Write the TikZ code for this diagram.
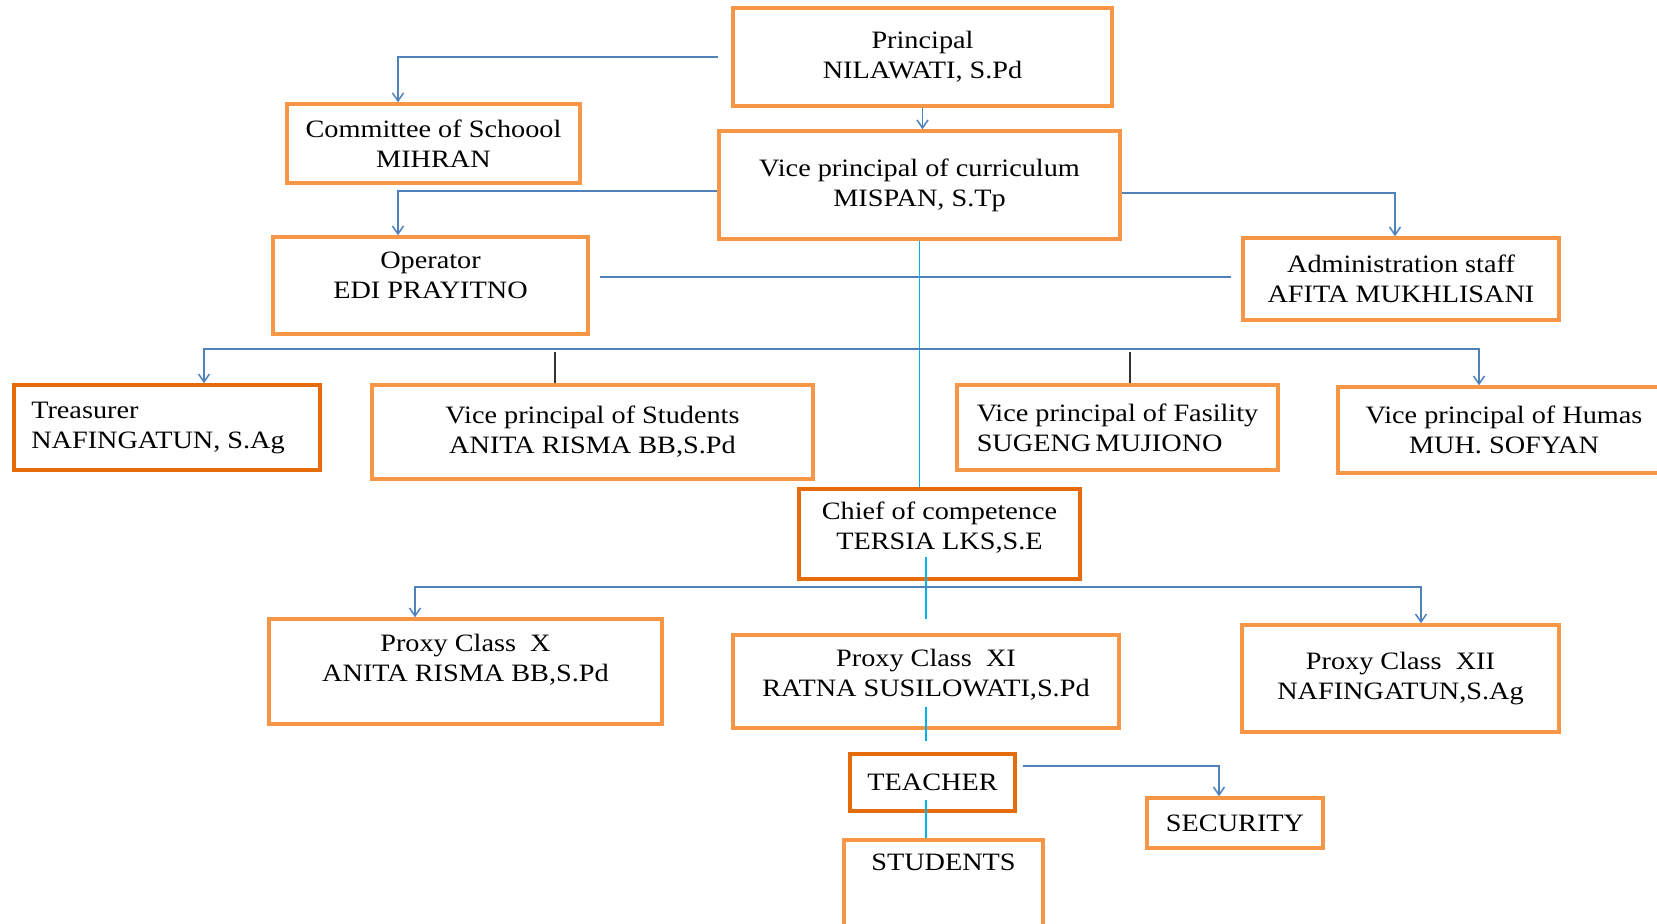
\documentclass[tikz,border=0pt]{standalone}
\usepackage{fontspec}
\setmainfont{Liberation Serif}[FakeStretch=1.13]
\usetikzlibrary{arrows.meta}
\definecolor{boxorange}{HTML}{F79646}
\definecolor{deeporange}{HTML}{E46C0A}
\definecolor{linkblue}{HTML}{4F81BD}
\definecolor{trunkcyan}{HTML}{00B0F0}

\begin{document}
\begin{tikzpicture}[x=0.5pt, y=-0.5pt,
  box/.style={draw=boxorange, line width=1.75pt, fill=white, align=center,
    inner sep=0pt, font=\fontsize{12.5}{15}\selectfont},
  darkbox/.style={box, draw=deeporange},
  link/.style={linkblue, line width=0.75pt},
  arrowlink/.style={link, -{Straight Barb[length=4pt,width=5.5pt]}},
  trunk/.style={trunkcyan, line width=0.75pt},
  tick/.style={black!80, line width=0.75pt}]
  \useasboundingbox (0,0) rectangle (1657,923);

  % Leadership
  \node[box, minimum width=189.5pt, minimum height=49pt] (principal) at (922.5,57)
    {Principal\\NILAWATI, S.Pd};
  \node[box, minimum width=146.5pt, minimum height=39.5pt] (committee) at (433.5,143.5)
    {Committee of Schoool\\MIHRAN};
  \node[box, minimum width=200.5pt, minimum height=54pt] (vpcurr) at (919.5,185)
    {Vice principal of curriculum\\MISPAN, S.Tp};
  \node[box, minimum width=157.5pt, minimum height=48.5pt, text depth=10pt] (operator) at (430.5,285.5)
    {Operator\\EDI PRAYITNO};
  \node[box, minimum width=158pt, minimum height=41pt] (admin) at (1401,279)
    {Administration staff\\AFITA MUKHLISANI};

  % Vice principals
  \node[darkbox, align=left, minimum width=153pt, minimum height=42.5pt] (treasurer) at (167,427.5)
    {Treasurer\\NAFINGATUN, S.Ag\rule{9pt}{0pt}};
  \node[box, minimum width=220.5pt, minimum height=47pt] (vpstud) at (592.5,432)
    {Vice principal of Students\\ANITA RISMA BB,S.Pd};
  \node[box, align=left, minimum width=160.5pt, minimum height=42.5pt] (vpfas) at (1117.5,427.5)
    {Vice principal of Fasility\\SUGENG\,MUJIONO};
  \node[box, minimum width=166pt, minimum height=43pt] (vphumas) at (1504,430)
    {Vice principal of Humas\\MUH. SOFYAN};
  \node[darkbox, minimum width=140.5pt, minimum height=45pt, text depth=8pt] (chief) at (939.5,534)
    {Chief of competence\\TERSIA LKS,S.E};

  % Classes
  \node[box, minimum width=196.5pt, minimum height=52.5pt, text depth=14pt] (proxyX) at (465.5,671.5)
    {Proxy Class~ X\\ANITA RISMA BB,S.Pd};
  \node[box, minimum width=193pt, minimum height=46.5pt, text depth=9pt] (proxyXI) at (926,681.5)
    {Proxy Class~ XI\\RATNA SUSILOWATI,S.Pd};
  \node[box, minimum width=158.5pt, minimum height=53.5pt] (proxyXII) at (1400.5,678.5)
    {Proxy Class~ XII\\NAFINGATUN,S.Ag};
  \node[darkbox, minimum width=82.5pt, minimum height=28.5pt] (teacher) at (932.5,782.5) {TEACHER};
  \node[box, minimum width=88pt, minimum height=25pt] (security) at (1235,823) {SECURITY};
  \node[box, anchor=north, minimum width=99.5pt, inner ysep=7pt, text depth=50pt] (students) at (943.5,838)
    {STUDENTS};

  % Connectors, top
  \draw[arrowlink] ([xshift=-6.5pt]principal.west) -| ([xshift=-17.75pt]committee.north);
  \draw[arrowlink] (principal.south) -- (principal.south |- vpcurr.north);
  \draw[arrowlink] ([yshift=-3pt]vpcurr.west) -| ([xshift=-16.25pt]operator.north);
  \draw[arrowlink] ([yshift=-4pt]vpcurr.east) -| ([xshift=-3pt]admin.north);
  \draw[link] ([xshift=5pt,yshift=4.25pt]operator.east) -- ([xshift=-5pt,yshift=1pt]admin.west);

  % Trunk and first bus
  \draw[trunk] (vpcurr.south) -- (vpcurr.south |- chief.north);
  \coordinate (busA) at (vpcurr.south |- 0,349);
  \draw[arrowlink] (busA) -| ([xshift=18.5pt]treasurer.north);
  \draw[arrowlink] (busA) -| ([xshift=-12.5pt]vphumas.north);
  \draw[tick] ([xshift=-18.75pt]vpstud.north) -- ([xshift=-18.75pt]vpstud.north |- 0,352);
  \draw[tick] ([xshift=6.25pt]vpfas.north) -- ([xshift=6.25pt]vpfas.north |- 0,352);

  % Second bus and lower chain
  \draw[trunk] ([yshift=12pt]chief.south -| proxyXI.north) -- ([yshift=7pt]proxyXI.north);
  \coordinate (busB) at (proxyXI.north |- 0,587);
  \draw[arrowlink] (busB) -| ([xshift=-25.25pt]proxyX.north);
  \draw[arrowlink] (busB) -| ([xshift=10.25pt]proxyXII.north);
  \draw[trunk] ([yshift=11.5pt]proxyXI.south) -- ([yshift=5.5pt]teacher.north -| proxyXI.south);
  \draw[trunk] ([yshift=6.5pt]teacher.south -| proxyXI.south) -- (students.north -| proxyXI.south);
  \draw[arrowlink] ([xshift=3pt,yshift=8.25pt]teacher.east) -| ([xshift=-8pt]security.north);
\end{tikzpicture}
\end{document}
